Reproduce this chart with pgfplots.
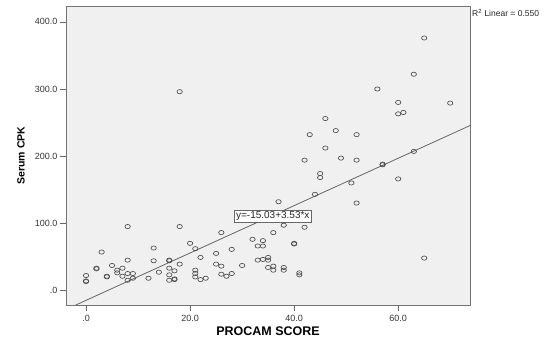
\documentclass[border=0pt]{standalone}
\usepackage{pgfplots}
\pgfplotsset{compat=1.18}
\usepackage{fontspec}
\setmainfont{Liberation Sans}
\begin{document}
\begin{tikzpicture}
\useasboundingbox (-66pt,-34pt) rectangle (485pt,305pt);
\begin{axis}[
  at={(0,0)}, anchor=south west,
  scale only axis, width=404pt, height=299pt,
  xmin=-3.85, xmax=73.8, ymin=-21.9, ymax=423.7,
  clip=false,
  axis background/.style={fill=gray!12},
  axis line style={draw=black!55, line width=0.9pt},
  tick align=outside, tick pos=left, major tick length=6pt,
  tick style={draw=black!60, line width=0.7pt},
  xtick={0,20,40,60}, xticklabels={.0,20.0,40.0,60.0},
  ytick={0,100,200,300,400}, yticklabels={.0,100.0,200.0,300.0,400.0},
  ticklabel style={font=\fontsize{9}{10}\selectfont, text=black!80},
  xticklabel style={yshift=-1pt},
  yticklabel style={xshift=1pt},
  xlabel={\textbf{PROCAM SCORE}},
  ylabel={\textbf{Serum CPK}},
  xlabel style={font=\fontsize{12.5}{14}\selectfont, at={([yshift=-26pt]axis description cs:0.5,0)}, anchor=center},
  ylabel style={font=\fontsize{10.5}{12}\selectfont, at={([xshift=-45pt]axis description cs:0,0.5)}, anchor=center},
]
\addplot[only marks, mark=o, mark size=2.4pt, mark options={draw=black!70, line width=0.65pt, xscale=1.12, yscale=0.88}] coordinates {
(0,22)(0,14)(0,13)
(2,33)(2,32)
(3,57)
(4,21)(4,20)
(5,37)
(6,30)(6,26)
(7,33)(7,21)
(8,95)(8,45)(8,25)(8,15)
(9,25)(9,18)
(12,18)
(13,63)(13,44)
(14,27)
(16,45)(16,44)(16,33)(16,23)(16,15)
(17,29)(17,17)(17,16)
(18,95)(18,39)(18,296)
(20,70)
(21,62)(21,30)(21,25)(21,20)
(22,16)(22,49)
(23,18)
(25,55)(25,39)
(26,86)(26,36)(26,24)
(27,21)
(28,61)(28,25)
(30,37)
(32,76)
(33,66)(33,45)
(34,74)(34,66)(34,46)
(35,49)(35,45)(35,34)
(36,86)(36,36)(36,30)
(37,132)
(38,97)(38,34)(38,30)
(40,70)(40,69)
(41,26)(41,23)
(42,94)(42,194)
(43,232)
(44,143)
(45,174)(45,168)
(46,256)(46,212)
(48,238)
(49,197)
(51,160)
(52,232)(52,194)(52,130)
(56,300)
(57,188)(57,187)
(60,280)(60,263)(60,166)
(61,265)
(63,322)(63,207)
(65,376)(65,48)
(70,279)
};
\addplot[draw=black!60, line width=0.8pt] coordinates {(-1.97,-21.9)(73.8,245.5)};
\node[draw=black!60, fill=white, line width=0.7pt, inner xsep=2pt, inner ysep=1.5pt, font=\fontsize{10}{11}\selectfont, text=black!85] at (axis cs:35.9,110.7) {y=-15.03+3.53*x};
\node[anchor=west, inner sep=0pt, font=\fontsize{8.5}{10}\selectfont, text=black!85] at ([xshift=2pt,yshift=-7pt]rel axis cs:1,1) {R\textsuperscript{2} Linear = 0.550};
\end{axis}
\end{tikzpicture}
\end{document}
